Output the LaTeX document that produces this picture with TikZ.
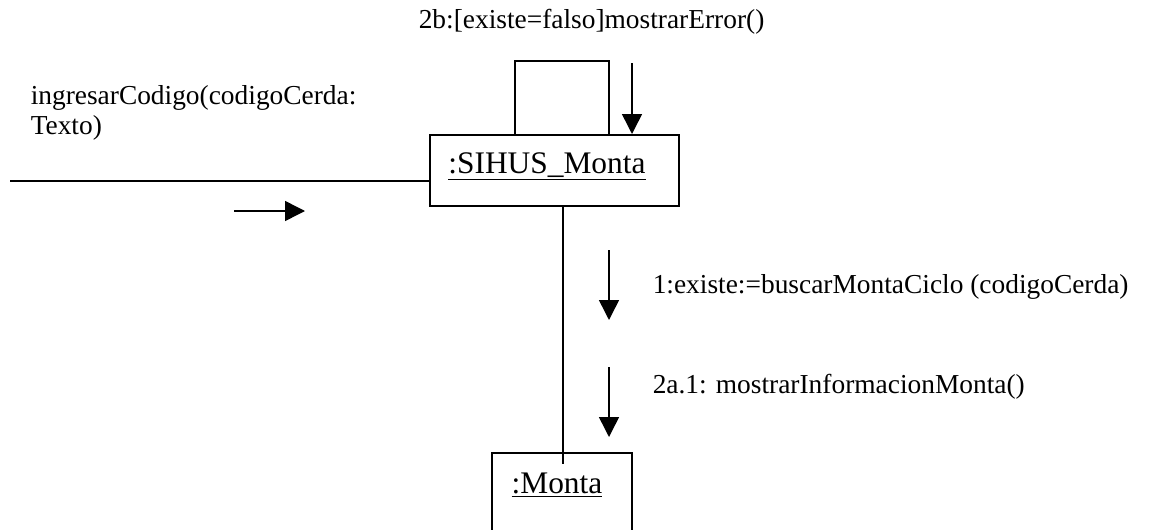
\documentclass[tikz,border=0pt]{standalone}
\usepackage{fontspec}
\setmainfont{Liberation Serif}
\usetikzlibrary{arrows.meta,positioning}

\tikzset{
  objbox/.style={draw, line width=0.75pt, inner sep=0pt},
  objname/.style={inner sep=0pt, anchor=base, font=\fontsize{15.7}{18}\selectfont},
  msgtext/.style={inner sep=0pt, anchor=base west, font=\fontsize{13.7}{14.5}\selectfont}
}

\begin{document}
\begin{tikzpicture}[x=0.5pt, y=-0.5pt, line width=0.75pt, >={Triangle[length=10pt,width=10pt]}]
    \useasboundingbox (0,0) rectangle (1157,530);

    % Objects
    \node[objbox, minimum width=124.5pt, minimum height=35.5pt] (sihus) at (554.5,170.5) {};
    \node[objname] (sihusName) at (547,173) {\underline{:SIHUS\_Monta}};
    \node[objbox, minimum width=70pt, minimum height=50pt] (monta) at (562,503) {};
    \node[objname] (montaName) at (557,493) {\underline{:Monta}};

    % Link from the actor
    \coordinate (actorEnd) at (10,181);
    \draw (actorEnd) -- (actorEnd -| sihus.west);

    % Self link on SIHUS_Monta
    \coordinate (loopL) at (515,61);
    \coordinate (loopR) at (609,61);
    \draw (loopL |- sihus.north) -- (loopL) -- (loopR) -- (loopR |- sihus.north);

    % Link SIHUS_Monta -- Monta
    \coordinate (linkTop) at (563,206);
    \coordinate (linkBot) at (563,464);
    \draw (linkTop) -- (linkBot);

    % Message arrows
    \coordinate (inStart) at (234,211);
    \coordinate (inEnd) at (305,211);
    \draw[->] (inStart) -- (inEnd);

    \coordinate (errStart) at (632,63);
    \coordinate (errEnd) at (632,134);
    \draw[->] (errStart) -- (errEnd);

    \coordinate (busStart) at (609,250);
    \coordinate (busEnd) at (609,320);
    \draw[->] (busStart) -- (busEnd);

    \coordinate (infStart) at (609,367);
    \coordinate (infEnd) at (609,437);
    \draw[->] (infStart) -- (infEnd);

    % Message labels
    \node[msgtext] (inLabel) at (30,104) {ingresarCodigo(codigoCerda:};
    \node[msgtext] (inLabel2) at (30,134) {Texto)};
    \node[msgtext] (errLabel) at (418,28) {2b:[existe=falso]mostrarError()};
    \node[msgtext] (busLabel) at (652,293) {1:existe:=buscarMontaCiclo (codigoCerda)};
    \node[msgtext] (infLabel) at (652,393) {2a.1: mostrarInformacionMonta()};

\end{tikzpicture}
\end{document}
